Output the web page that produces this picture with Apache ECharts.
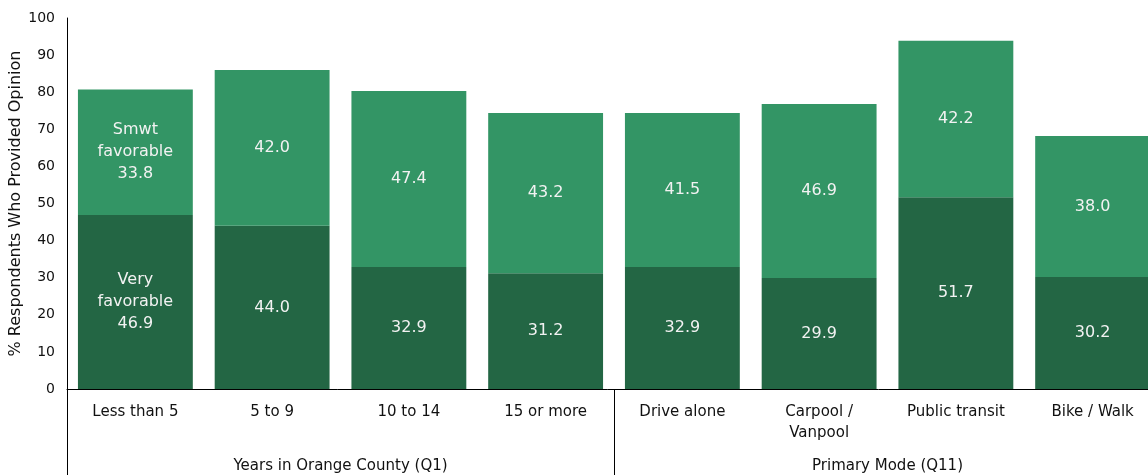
<!DOCTYPE html>
<html>
<head>
<meta charset="utf-8">
<script src="https://cdn.jsdelivr.net/npm/echarts@6/dist/echarts.min.js"></script>
<style>
  html, body { margin: 0; padding: 0; background: #fff; }
  #chart { width: 1148px; height: 475px; }
</style>
</head>
<body>
<div id="chart"></div>
<script>
// Favorability by respondent group
const categories = ['Less than 5', '5 to 9', '10 to 14', '15 or more',
  'Drive alone', 'Carpool /\nVanpool', 'Public transit', 'Bike / Walk'];
const groups = ['Years in Orange County (Q1)', 'Primary Mode (Q11)'];
const veryFavorable = [46.9, 44.0, 32.9, 31.2, 32.9, 29.9, 51.7, 30.2];
const smwtFavorable = [33.8, 42.0, 47.4, 43.2, 41.5, 46.9, 42.2, 38.0];
const yTicks = { min: 0, max: 100, interval: 10 };

const FONT = 'DejaVu Sans';
const chart = echarts.init(document.getElementById('chart'));

function segLabel(prefix) {
  return {
    show: true,
    position: 'inside',
    color: '#f2f2f2',
    fontFamily: FONT,
    fontSize: 16,
    lineHeight: 22,
    formatter: p => (p.dataIndex === 0 ? prefix + '\n' : '') + p.value.toFixed(1)
  };
}

chart.setOption({
  animation: false,
  grid: { left: 67, top: 18, width: 1094, bottom: 86, containLabel: false, outerBoundsMode: 'none' },
  xAxis: [
    {
      type: 'category',
      data: categories,
      axisLine: { show: true, lineStyle: { color: '#000', width: 1 } },
      axisTick: { show: false },
      axisLabel: { color: '#111', fontFamily: FONT, fontSize: 15, margin: 13, lineHeight: 21, interval: 0 }
    },
    {
      type: 'category',
      data: groups,
      position: 'bottom',
      axisLine: { show: false },
      axisTick: { show: true, length: 90, lineStyle: { color: '#000', width: 1 } },
      axisLabel: { color: '#111', fontFamily: FONT, fontSize: 15, margin: 70, interval: 0 }
    }
  ],
  yAxis: {
    type: 'value',
    min: yTicks.min,
    max: yTicks.max,
    interval: yTicks.interval,
    name: '% Respondents Who Provided Opinion',
    nameLocation: 'middle',
    nameGap: 43,
    nameMoveOverlap: false,
    nameTextStyle: { color: '#111', fontFamily: FONT, fontSize: 16 },
    axisLine: { show: true, lineStyle: { color: '#000', width: 1 } },
    axisTick: { show: false },
    splitLine: { show: false },
    axisLabel: { color: '#111', fontFamily: FONT, fontSize: 14, margin: 12 }
  },
  series: [
    {
      name: 'Very favorable',
      type: 'bar',
      stack: 'fav',
      data: veryFavorable,
      barCategoryGap: '16%',
      itemStyle: { color: '#236644' },
      label: segLabel('Very\nfavorable')
    },
    {
      name: 'Smwt favorable',
      type: 'bar',
      stack: 'fav',
      data: smwtFavorable,
      barCategoryGap: '16%',
      itemStyle: { color: '#339565' },
      label: segLabel('Smwt\nfavorable')
    },
    {
      // empty series on the group axis so its ticks and labels are laid out
      type: 'bar',
      xAxisIndex: 1,
      data: [null, null],
      silent: true
    }
  ]
});
</script>
</body>
</html>
